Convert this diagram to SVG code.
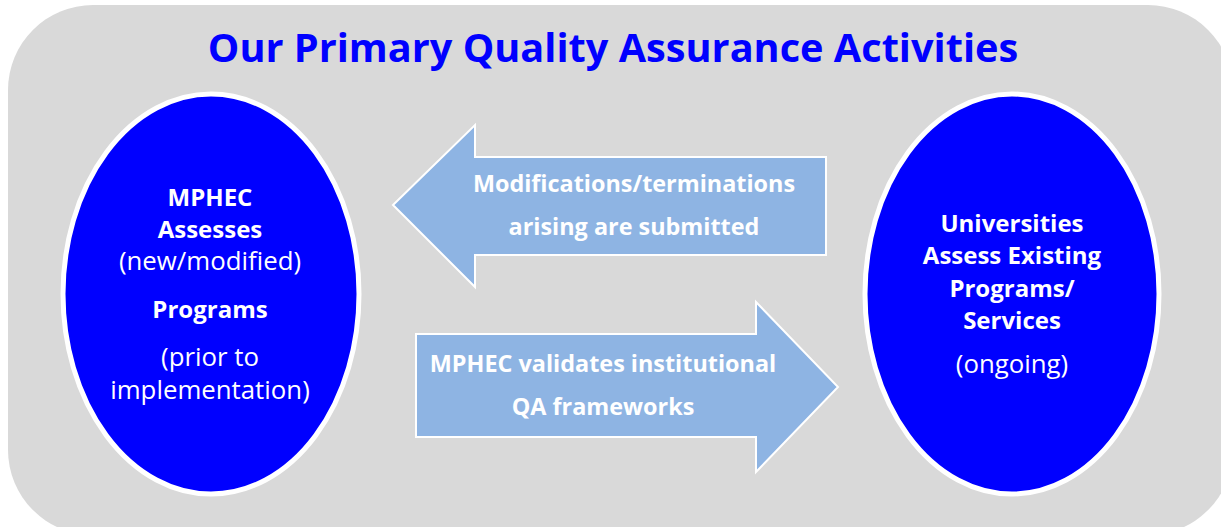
<svg xmlns="http://www.w3.org/2000/svg" width="1221" height="527" viewBox="0 0 1221 527">
<style>
.t{font-family:"Open Sans","Noto Sans","Liberation Sans",sans-serif;text-anchor:middle;}
.title{font-size:39.7px;font-weight:bold;fill:#0000FF;}
.w{fill:#FFFFFF;}
.b{font-weight:bold;font-size:24px;}
.r{font-size:25.8px;}
.a{font-weight:bold;font-size:23.4px;}
.oval{fill:#0000FF;stroke:#FFFFFF;stroke-width:5;}
.arrow{fill:#8EB4E3;stroke:#FFFFFF;stroke-width:2;}
</style>
<rect x="0" y="0" width="1221" height="527" fill="#FFFFFF"/>
<rect x="8" y="5" width="1225" height="530" rx="85" ry="85" fill="#D9D9D9"/>
<text class="t title" x="613" y="62">Our Primary Quality Assurance Activities</text>
<g id="connectors">
<g id="arrow-left">
<polygon class="arrow" points="393,205 475,125 475,157 826,157 826,255 475,255 475,287"/>
<text class="t w a" x="634" y="192">Modifications/terminations</text>
<text class="t w a" x="634" y="235">arising are submitted</text>
</g>
<g id="arrow-right">
<polygon class="arrow" points="416,334 756,334 756,302 838,387 756,472 756,437 416,437"/>
<text class="t w a" x="603" y="372">MPHEC validates institutional</text>
<text class="t w a" x="603" y="415">QA frameworks</text>
</g>
</g>
<g id="node-mphec">
<ellipse class="oval" cx="211" cy="294" rx="148" ry="200"/>
<text class="t w b" x="210" y="206">MPHEC</text>
<text class="t w b" x="210" y="238">Assesses</text>
<text class="t w r" x="210" y="270">(new/modified)</text>
<text class="t w b" x="210" y="318">Programs</text>
<text class="t w r" x="210" y="365.5">(prior to</text>
<text class="t w r" x="210" y="398.5">implementation)</text>
</g>
<g id="node-universities">
<ellipse class="oval" cx="1012" cy="294" rx="147" ry="200"/>
<text class="t w b" x="1012" y="232">Universities</text>
<text class="t w b" x="1012" y="264">Assess Existing</text>
<text class="t w b" x="1012" y="297">Programs/</text>
<text class="t w b" x="1012" y="329">Services</text>
<text class="t w r" x="1012" y="373">(ongoing)</text>
</g>
</svg>
